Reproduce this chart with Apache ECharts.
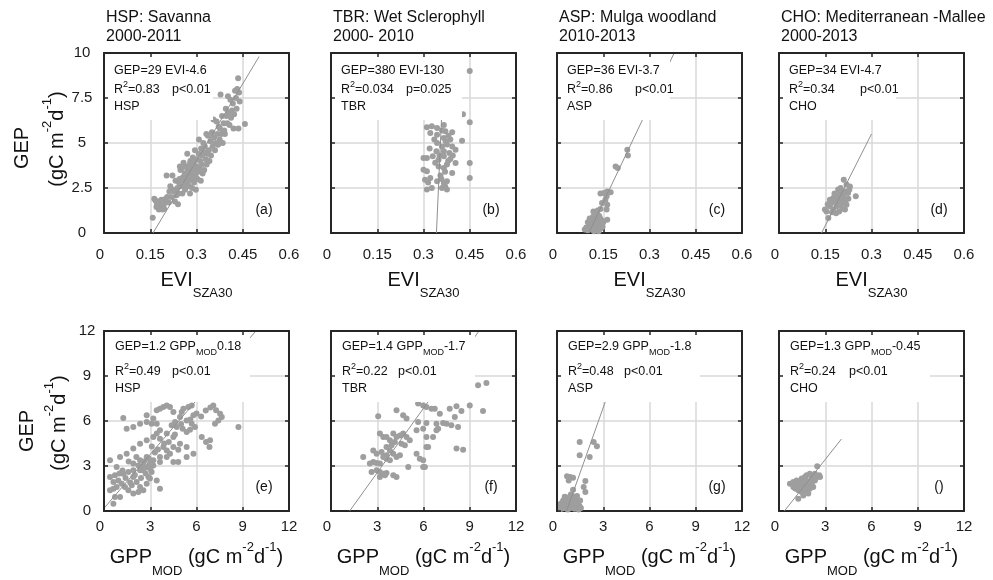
<!DOCTYPE html>
<html><head><meta charset="utf-8">
<script src="https://cdn.jsdelivr.net/npm/echarts@6/dist/echarts.min.js"></script>
<style>html,body{margin:0;padding:0;background:#fff}#c{width:993px;height:580px}</style>
</head><body><div id="c"></div>
<script>
// ---------- data ----------
const eviTicks = [0, 0.15, 0.3, 0.45, 0.6];
const gepTicksTop = [0, 2.5, 5, 7.5, 10];
const gppTicks = [0, 3, 6, 9, 12];
const gepTicksBottom = [0, 3, 6, 9, 12];

const siteCodes = ['HSP', 'TBR', 'ASP', 'CHO'];
const siteNames = ['HSP: Savanna', 'TBR: Wet Sclerophyll', 'ASP: Mulga woodland', 'CHO: Mediterranean -Mallee'];
const sitePeriods = ['2000-2011', '2000- 2010', '2010-2013', '2000-2013'];
const eviEquations = ['GEP=29 EVI-4.6', 'GEP=380 EVI-130', 'GEP=36 EVI-3.7', 'GEP=34 EVI-4.7'];
const eviR2 = ['0.83', '0.034', '0.86', '0.34'];
const eviP = ['p<0.01', 'p=0.025', 'p<0.01', 'p<0.01'];
const gppSlopes = ['1.2', '1.4', '2.9', '1.3'];
const gppOffsets = ['0.18', '-1.7', '-1.8', '-0.45'];
const gppR2 = ['0.49', '0.22', '0.48', '0.24'];
const gppP = ['p<0.01', 'p<0.01', 'p<0.01', 'p<0.01'];
const panelLetters = ['(a)', '(b)', '(c)', '(d)', '(e)', '(f)', '(g)', '()'];

const hspEvi = [[0.158,0.85],[0.163,1.9],[0.167,1.8],[0.17,1.45],[0.172,1.6],[0.176,1.75],[0.178,1.3],[0.18,1.5],[0.184,1.4],[0.186,1.85],[0.188,1.6],[0.19,1.3],[0.193,1.55],[0.195,1.35],[0.198,1.7],[0.2,1.9],[0.203,3.2],[0.205,2.0],[0.21,1.7],[0.212,2.3],[0.215,2.6],[0.218,2.0],[0.222,3.2],[0.225,2.4],[0.228,2.3],[0.23,1.75],[0.232,2.9],[0.235,2.1],[0.238,2.5],[0.24,1.6],[0.242,2.2],[0.243,2.8],[0.245,3.0],[0.246,3.7],[0.248,3.5],[0.25,2.6],[0.252,3.6],[0.254,2.2],[0.256,3.1],[0.258,3.9],[0.26,2.9],[0.262,3.3],[0.263,2.4],[0.265,3.7],[0.266,2.7],[0.268,3.2],[0.27,4.4],[0.271,3.5],[0.272,2.8],[0.274,3.0],[0.275,3.4],[0.276,2.6],[0.278,3.8],[0.279,2.2],[0.28,4.0],[0.282,3.3],[0.283,3.0],[0.285,3.6],[0.286,2.5],[0.288,4.2],[0.29,3.1],[0.291,3.9],[0.292,2.8],[0.294,3.5],[0.295,4.6],[0.297,3.2],[0.298,2.4],[0.3,3.7],[0.302,4.1],[0.303,3.0],[0.305,3.4],[0.307,4.4],[0.308,5.2],[0.31,3.6],[0.312,4.0],[0.314,2.9],[0.315,4.7],[0.317,3.8],[0.318,4.3],[0.32,3.3],[0.322,5.0],[0.324,4.5],[0.325,3.5],[0.327,4.8],[0.33,4.1],[0.332,5.5],[0.333,3.8],[0.335,4.4],[0.337,5.4],[0.34,4.6],[0.342,4.0],[0.345,5.1],[0.347,4.3],[0.35,5.6],[0.352,4.8],[0.355,6.3],[0.357,5.3],[0.36,4.6],[0.362,5.0],[0.365,6.2],[0.367,5.5],[0.37,4.9],[0.372,5.9],[0.375,5.2],[0.376,5.8],[0.378,7.7],[0.38,5.5],[0.383,6.5],[0.385,5.0],[0.388,6.1],[0.39,5.7],[0.392,5.5],[0.395,6.9],[0.397,6.5],[0.4,6.1],[0.402,7.6],[0.405,6.7],[0.407,6.0],[0.41,7.4],[0.412,6.4],[0.415,6.8],[0.418,7.2],[0.42,5.8],[0.422,6.6],[0.425,7.9],[0.428,7.5],[0.43,6.9],[0.432,8.0],[0.435,8.6],[0.436,5.8],[0.438,7.8],[0.44,7.3],[0.457,6.05]];
const tbrEvi = [[0.45,9.0],[0.428,6.6],[0.45,6.15],[0.311,5.87],[0.327,5.93],[0.344,5.83],[0.366,6.0],[0.322,5.56],[0.344,5.46],[0.371,5.65],[0.393,5.6],[0.366,5.28],[0.387,5.19],[0.425,5.13],[0.344,5.0],[0.36,4.81],[0.376,4.91],[0.393,4.81],[0.342,4.54],[0.366,4.54],[0.384,4.44],[0.404,4.63],[0.3,4.17],[0.311,4.17],[0.33,4.26],[0.349,4.07],[0.366,4.26],[0.387,4.11],[0.404,3.89],[0.45,3.89],[0.3,3.52],[0.311,3.43],[0.349,3.7],[0.366,3.61],[0.376,3.8],[0.393,3.33],[0.45,3.06],[0.305,2.96],[0.322,3.06],[0.344,2.87],[0.366,2.78],[0.376,2.87],[0.311,2.41],[0.327,2.5],[0.36,2.5],[0.376,2.41],[0.355,3.2],[0.37,3.4],[0.38,4.0],[0.352,4.3],[0.372,5.1],[0.335,5.2],[0.36,5.7],[0.381,5.4],[0.395,4.3],[0.338,3.9],[0.358,3.0],[0.37,2.6],[0.32,4.7],[0.315,2.8]];
const aspEvi = [[0.09,0.2],[0.095,0.3],[0.1,0.15],[0.103,0.4],[0.105,0.25],[0.108,0.55],[0.11,0.35],[0.112,0.7],[0.113,0.2],[0.115,0.45],[0.117,0.9],[0.118,0.6],[0.12,0.3],[0.122,1.0],[0.123,0.75],[0.125,0.5],[0.126,0.2],[0.128,0.85],[0.13,1.1],[0.131,0.4],[0.133,0.65],[0.135,0.3],[0.137,0.95],[0.138,0.55],[0.14,0.8],[0.142,0.25],[0.143,0.45],[0.146,0.7],[0.148,0.35],[0.15,0.6],[0.1,0.6],[0.106,0.8],[0.118,1.2],[0.132,1.25],[0.12,0.1],[0.135,0.1],[0.141,2.2],[0.146,1.67],[0.152,2.22],[0.157,1.85],[0.161,2.04],[0.163,2.31],[0.174,2.26],[0.163,1.57],[0.141,1.33],[0.161,1.3],[0.163,0.74],[0.19,3.7],[0.197,3.61],[0.228,4.63],[0.23,4.3]];
const choEvi = [[0.21,2.96],[0.219,2.69],[0.23,2.59],[0.192,2.41],[0.197,2.31],[0.214,2.31],[0.224,2.22],[0.249,2.04],[0.165,1.85],[0.176,1.94],[0.187,2.04],[0.208,1.94],[0.17,1.67],[0.182,1.75],[0.2,1.8],[0.215,1.7],[0.225,1.9],[0.149,1.3],[0.154,1.2],[0.165,1.48],[0.176,1.3],[0.187,1.48],[0.197,1.57],[0.208,1.67],[0.219,1.57],[0.214,1.3],[0.16,0.83],[0.2,2.1],[0.18,2.2],[0.195,1.2],[0.205,1.35],[0.158,1.6],[0.172,1.15],[0.19,1.9],[0.228,2.4],[0.2,2.5],[0.185,1.1],[0.21,2.1]];

const hspGpp = [[8.72,5.6],[7.09,7.04],[7.27,6.71],[7.53,6.49],[7.64,6.27],[7.42,6.04],[7.2,5.82],[6.84,4.27],[6.88,4.71],[6.62,4.6],[6.34,4.93],[5.9,5.6],[5.69,5.82],[5.58,5.42],[5.36,5.27],[5.1,5.49],[5.36,6.04],[5.8,6.38],[4.93,6.27],[4.61,5.93],[4.72,5.6],[4.39,5.71],[5.15,6.82],[5.04,6.6],[5.47,6.93],[5.69,7.04],[4.5,6.6],[4.28,6.93],[4.07,7.04],[3.85,6.93],[3.63,6.82],[3.42,6.71],[3.42,5.82],[3.09,5.82],[2.77,5.93],[2.34,5.82],[1.9,5.6],[1.47,5.49],[1.25,6.2],[2.77,6.38],[3.2,6.16],[0.39,3.38],[0.82,2.93],[1.04,3.6],[1.47,3.82],[1.9,4.16],[2.34,4.49],[2.77,4.71],[3.2,4.93],[3.63,4.82],[3.85,4.27],[4.07,4.04],[4.5,4.27],[4.82,4.09],[4.28,3.82],[3.63,3.6],[3.2,3.38],[2.77,3.6],[2.34,3.38],[1.9,3.16],[2.34,2.71],[2.77,2.93],[3.2,3.04],[3.63,3.27],[4.07,3.6],[4.5,3.27],[4.82,3.27],[5.36,3.6],[5.8,3.82],[5.36,4.27],[4.93,4.49],[4.5,4.93],[4.07,5.16],[3.63,5.38],[3.42,5.16],[0.39,2.27],[0.61,1.93],[0.71,2.38],[0.93,2.04],[1.15,1.82],[1.36,1.6],[1.58,1.38],[1.8,1.71],[1.9,2.27],[2.12,1.93],[2.34,1.6],[2.55,1.38],[2.77,1.82],[2.88,2.27],[3.09,2.6],[2.98,2.16],[3.42,2.04],[3.63,1.49],[2.23,1.27],[1.9,1.16],[1.04,0.93],[0.82,1.6],[0.61,1.49],[0.39,1.38],[1.25,2.49],[1.58,2.6],[1.9,2.71],[2.23,3.04],[2.55,2.71],[2.98,3.16],[0.71,0.93],[0.61,0.49],[2.5,3.0],[2.6,3.3],[2.9,3.5],[3.0,2.8],[3.3,3.9],[2.1,3.6],[1.6,3.3],[1.2,2.7],[2.0,2.4],[2.4,2.2],[2.7,2.5],[3.9,4.5],[4.2,4.6],[4.6,5.1],[5.0,5.8],[5.6,6.1],[6.0,6.5],[6.3,6.3],[6.6,6.7],[6.9,6.9],[3.1,4.3],[3.5,4.1],[1.4,2.2],[1.0,2.5],[1.7,1.9]];
const tbrGpp = [[9.54,8.38],[10.08,8.53],[9.86,6.67],[9.0,7.04],[8.46,6.67],[8.14,6.98],[7.7,6.82],[7.06,6.49],[6.73,6.82],[6.52,6.82],[6.19,6.93],[5.98,7.04],[5.65,7.16],[4.25,6.71],[4.68,6.38],[4.9,6.16],[3.06,6.31],[5.65,5.93],[6.19,5.87],[6.84,5.82],[7.27,5.87],[7.49,5.82],[7.81,5.71],[8.24,5.6],[8.03,6.27],[3.17,5.16],[3.39,4.93],[3.6,4.93],[3.82,4.71],[4.04,5.16],[4.25,4.93],[4.47,5.04],[4.68,5.16],[4.9,4.93],[5.11,4.71],[4.57,4.49],[4.14,4.6],[3.93,4.38],[3.6,4.27],[5.55,5.38],[5.98,5.49],[6.19,4.93],[6.62,4.93],[6.84,5.38],[6.95,5.49],[2.74,4.04],[2.96,3.82],[3.28,3.93],[3.6,3.71],[3.82,4.04],[4.04,3.82],[4.25,3.6],[4.47,3.71],[4.79,4.38],[2.09,3.6],[2.52,3.16],[2.74,3.27],[2.96,3.2],[3.17,3.16],[3.39,3.6],[3.6,3.49],[3.82,3.38],[2.63,2.6],[2.96,2.71],[3.17,2.6],[3.39,2.49],[3.6,2.53],[4.04,2.38],[4.25,2.27],[5.55,3.82],[5.76,3.49],[5.98,3.38],[6.09,2.93],[6.19,4.27],[6.3,4.27],[5.01,2.93],[5.98,2.93],[8.14,4.16],[8.57,4.09],[3.17,2.27],[3.5,2.38]];
const aspGpp = [[1.47,4.6],[2.38,4.6],[2.59,4.31],[1.47,3.71],[2.12,3.6],[0.65,2.31],[0.86,2.27],[1.04,2.22],[0.76,2.04],[1.84,2.0],[1.73,1.6],[1.84,1.27],[1.04,1.42],[0.15,0.3],[0.25,0.5],[0.3,0.15],[0.4,0.7],[0.45,0.35],[0.5,0.2],[0.55,0.55],[0.6,0.9],[0.65,0.3],[0.7,0.1],[0.75,0.6],[0.8,0.4],[0.85,0.8],[0.9,0.2],[0.95,0.5],[1.0,1.0],[1.05,0.3],[1.1,0.65],[1.15,0.15],[1.2,0.45],[1.25,0.85],[1.3,0.25],[1.35,0.55],[1.4,0.1],[1.45,0.35],[1.5,0.7],[1.55,0.2],[0.35,0.45],[0.2,0.15],[0.9,1.1],[1.3,1.0],[0.6,0.7],[0.5,0.95]];
const choGpp = [[2.48,2.98],[2.33,2.49],[2.61,2.38],[2.0,2.49],[1.79,2.38],[0.71,1.82],[0.93,1.93],[1.14,2.04],[1.47,2.16],[1.68,2.27],[2.12,2.16],[2.33,2.04],[2.66,2.27],[0.93,1.6],[1.14,1.71],[1.36,1.6],[1.58,1.82],[1.9,1.71],[2.12,1.82],[2.22,1.6],[1.25,1.38],[1.47,1.27],[1.68,1.38],[1.9,1.16],[2.0,1.49],[1.25,0.82],[1.58,1.04],[1.4,1.9],[1.6,2.0],[1.8,2.0],[1.3,1.5],[1.7,1.55],[2.4,2.2],[1.05,1.5],[1.85,1.9]];

// regression line end points
const hspEviFit = [[0.159, 0], [0.503, 9.8]];
const tbrEviFit = [[0.342, 0], [0.368, 10]];
const aspEviFit = [[0.103, 0], [0.38, 10]];
const choEviFit = [[0.138, 0], [0.3, 5.5]];
const hspGppFit = [[0, 0.18], [9.85, 12]];
const tbrGppFit = [[1.21, 0], [9.6, 12]];
const aspGppFit = [[0.62, 0], [4.76, 12]];
const choGppFit = [[0.35, 0], [4.05, 4.8]];

// ---------- layout ----------
const FONT = '"Liberation Sans", Arial, Helvetica, sans-serif';
const LEFTS = [104, 331, 557, 779];
const PW = 185, PH = 180;
const FRAME = '#262626';
const GRIDC = '#d9d9d9';
const DOT = '#9e9e9e';
const LINEC = '#8f8f8f';

const rows = [
  { top: 53, xt: eviTicks, yt: gepTicksTop, data: [hspEvi, tbrEvi, aspEvi, choEvi],
    fits: [hspEviFit, tbrEviFit, aspEviFit, choEviFit],
    boxW: [109, 131, 113, 117], boxH: 67, xMargin: 14, yMargin: 22,
    pOff: [68, 75, 78, 81], lineY: [71, 90, 107], letterDy: -23 },
  { top: 331, xt: gppTicks, yt: gepTicksBottom, data: [hspGpp, tbrGpp, aspGpp, choGpp],
    fits: [hspGppFit, tbrGppFit, aspGppFit, choGppFit],
    boxW: [146, 144, 143, 151], boxH: 71, xMargin: 8, yMargin: 17,
    pOff: [68, 67, 67, 70], lineY: [347, 372, 389], letterDy: -24 }
];

const grids = [], xAxes = [], yAxes = [], series = [], graphics = [];

function frameAxis(extra) {
  return Object.assign({
    type: 'value', z: 10, silent: true,
    axisLine: { show: true, onZero: false, lineStyle: { color: FRAME, width: 2 } },
    axisTick: { show: true, inside: true, length: 4, lineStyle: { color: FRAME, width: 1.5 } },
    axisLabel: { show: false }, splitLine: { show: false }
  }, extra);
}

function txt(x, y, text, size, opt) {
  opt = opt || {};
  const style = {
    text: text, fill: '#111', fontSize: size, fontFamily: FONT,
    align: opt.align || 'left', textAlign: opt.align || 'left',
    verticalAlign: 'middle', textVerticalAlign: 'middle'
  };
  if (opt.rich) style.rich = opt.rich;
  const el = { type: 'text', x: x, y: y, z: 20, silent: true, style: style };
  if (opt.rotation) el.rotation = opt.rotation;
  return el;
}

rows.forEach((row, r) => {
  const xr = { min: row.xt[0], max: row.xt[row.xt.length - 1], interval: row.xt[1] - row.xt[0] };
  const yr = { min: row.yt[0], max: row.yt[row.yt.length - 1], interval: row.yt[1] - row.yt[0] };
  LEFTS.forEach((left, c) => {
    const g = grids.length;
    grids.push({ left: left, top: row.top, width: PW, height: PH, containLabel: false });
    xAxes.push(Object.assign({
      gridIndex: g, type: 'value', position: 'bottom', z: 0, silent: true,
      axisLine: { show: true, onZero: false, lineStyle: { color: FRAME, width: 2 } },
      axisTick: { show: true, inside: true, length: 4, lineStyle: { color: FRAME, width: 1.5 } },
      axisLabel: { show: true, margin: row.xMargin, fontSize: 15, color: '#1a1a1a', fontFamily: FONT,
                   alignMinLabel: 'right' },
      splitLine: { show: true, lineStyle: { color: GRIDC, width: 1.5 } }
    }, xr));
    xAxes.push(frameAxis(Object.assign({ gridIndex: g, position: 'top' }, xr)));
    yAxes.push(Object.assign({
      gridIndex: g, type: 'value', position: 'left', z: 0, silent: true,
      axisLine: { show: false, onZero: false }, axisTick: { show: false },
      axisLabel: { show: c === 0, margin: row.yMargin, align: 'center', fontSize: 15, color: '#1a1a1a', fontFamily: FONT },
      splitLine: { show: true, lineStyle: { color: GRIDC, width: 1.5 } }
    }, yr));
    yAxes.push(frameAxis(Object.assign({ gridIndex: g, position: 'right' }, yr)));
    yAxes.push(frameAxis(Object.assign({ gridIndex: g, position: 'left' }, yr)));

    series.push({ type: 'scatter', xAxisIndex: 2 * g, yAxisIndex: 3 * g, data: row.data[c],
      symbol: 'circle', symbolSize: 6, itemStyle: { color: DOT, opacity: 1 }, z: 2, silent: true });
    series.push({ type: 'line', xAxisIndex: 2 * g, yAxisIndex: 3 * g, data: row.fits[c],
      symbol: 'none', showSymbol: false, lineStyle: { color: LINEC, width: 1 }, z: 3, silent: true });

    graphics.push({ type: 'rect', z: 5, silent: true,
      shape: { x: left, y: row.top, width: row.boxW[c], height: row.boxH },
      style: { fill: '#ffffff' } });

    const tx = left + 10;
    if (r === 0) {
      graphics.push(txt(left + 2, 18, siteNames[c], 16));
      graphics.push(txt(left + 2, 37, sitePeriods[c], 16));
      graphics.push(txt(tx, row.lineY[0], eviEquations[c], 12.5));
      graphics.push(txt(tx, row.lineY[1], '{m|R}{p|2}{m|=' + eviR2[c] + '}', 12.5, { rich: {
        m: { fontSize: 12.5, fontFamily: FONT, lineHeight: 21, fill: '#111' },
        p: { fontSize: 9, fontFamily: FONT, verticalAlign: 'top', padding: [1, 0, 0, 0], fill: '#111' } } }));
      graphics.push(txt(left + row.pOff[c], row.lineY[1], eviP[c], 12.5));
      graphics.push(txt(tx, row.lineY[2], siteCodes[c], 12.5));
      graphics.push(txt(left + PW / 2, 280, '{m|EVI}{s|SZA30}', 20, { align: 'center', rich: {
        m: { fontSize: 20, fontFamily: FONT, lineHeight: 39, fill: '#111' },
        s: { fontSize: 13, fontFamily: FONT, verticalAlign: 'bottom', fill: '#111' } } }));
    } else {
      graphics.push(txt(tx + 1, row.lineY[0], '{m|GEP=' + gppSlopes[c] + ' GPP}{s|MOD}{m|' + gppOffsets[c] + '}', 12.5, { rich: {
        m: { fontSize: 12.5, fontFamily: FONT, lineHeight: 21, fill: '#111' },
        s: { fontSize: 9, fontFamily: FONT, verticalAlign: 'bottom', fill: '#111' } } }));
      graphics.push(txt(tx + 1, row.lineY[1], '{m|R}{p|2}{m|=' + gppR2[c] + '}', 12.5, { rich: {
        m: { fontSize: 12.5, fontFamily: FONT, lineHeight: 21, fill: '#111' },
        p: { fontSize: 9, fontFamily: FONT, verticalAlign: 'top', padding: [1, 0, 0, 0], fill: '#111' } } }));
      graphics.push(txt(left + row.pOff[c], row.lineY[1], gppP[c], 12.5));
      graphics.push(txt(tx + 1, row.lineY[2], siteCodes[c], 12.5));
      graphics.push(txt(left + PW / 2, 557, '{m|GPP}{s|MOD}{m| (gC m}{p|-2}{m|d}{p|-1}{m|)}', 20, { align: 'center', rich: {
        m: { fontSize: 20, fontFamily: FONT, lineHeight: 41, fill: '#111' },
        s: { fontSize: 13, fontFamily: FONT, verticalAlign: 'bottom', fill: '#111' },
        p: { fontSize: 13, fontFamily: FONT, verticalAlign: 'top', padding: [4, 0, 0, 0], fill: '#111' } } }));
    }
    graphics.push(txt(left + 160, row.top + PH + row.letterDy, panelLetters[r * 4 + c], 14, { align: 'center' }));
  });
});

const yTitlePos = [{ gx: 22, gy: 148, ux: 57, uy: 139 }, { gx: 27, gy: 431, ux: 59, uy: 423 }];
yTitlePos.forEach(p => {
  graphics.push(txt(p.gx, p.gy, 'GEP', 20, { align: 'center', rotation: Math.PI / 2 }));
  graphics.push(txt(p.ux, p.uy, '{m|(gC m}{p|-2}{m|d}{p|-1}{m|)}', 20, { align: 'center', rotation: Math.PI / 2, rich: {
    m: { fontSize: 20, fontFamily: FONT, lineHeight: 33, fill: '#111' },
    p: { fontSize: 13, fontFamily: FONT, verticalAlign: 'top', fill: '#111' } } }));
});

const chart = echarts.init(document.getElementById('c'), null, { renderer: 'canvas' });
chart.setOption({
  animation: false,
  backgroundColor: '#ffffff',
  grid: grids,
  xAxis: xAxes,
  yAxis: yAxes,
  series: series,
  graphic: { elements: graphics }
});
</script>
</body></html>
